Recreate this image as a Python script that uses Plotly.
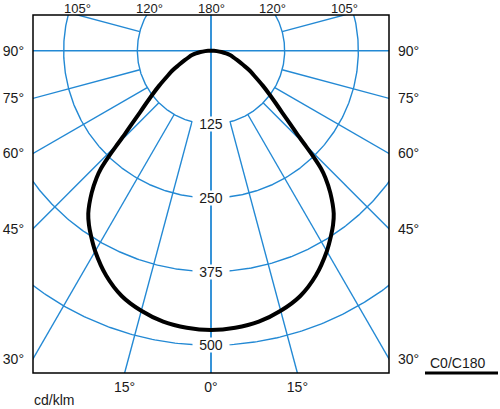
import numpy as np
import plotly.graph_objects as go

gamma_deg = [0, 5, 10, 15, 20, 25, 30, 33, 35, 37, 40, 42, 43, 44, 45, 46, 47, 49, 51,
             53.5, 56, 59.5, 63, 66, 70, 74, 77, 80, 83, 86, 88, 90]
intensity_c0 = [474, 472, 467, 457, 443, 421, 393, 374, 361, 346, 315, 290, 274, 250, 224,
                202, 186, 160, 141, 122, 106, 87, 73, 60, 48, 39, 33, 26, 18, 10, 5, 0]
intensity_c180 = [474, 472, 467, 457, 443, 421, 393, 374, 361, 346, 315, 290, 274, 250, 224,
                  202, 186, 160, 141, 122, 106, 87, 73, 60, 48, 39, 33, 26, 18, 10, 5, 0]

ring_values = [125, 250, 375, 500]
ring_labels = ["125", "250", "375", "500"]
spoke_angles = [0, 15, 30, 45, 60, 75, 90, 105, 120, 135, 150, 165, 180]

side_tick_angles = [90, 75, 60, 45, 30]
side_tick_labels = ["90°", "75°", "60°", "45°", "30°"]
bottom_tick_angles = [-15, 0, 15]
bottom_tick_labels = ["15°", "0°", "15°"]
top_tick_angles = [-105, -120, 180, 120, 105]
top_tick_labels = ["105°", "120°", "180°", "120°", "105°"]

unit_label = "cd/klm"
plane_label = "C0/C180"

# ---- frame (axis ranges in cd/klm) ----
X_HALF = 302.0
Y_TOP = 60.6
Y_BOTTOM = -547.0
BLUE = "#2389d4"
FONT = "Arial, Liberation Sans, Helvetica, sans-serif"
PLOT_W, PLOT_H = 356, 358
MARGIN_T = 15
MARGIN_B = 409 - MARGIN_T - PLOT_H


def polar_xy(gamma, r):
    g = np.radians(gamma)
    return r * np.sin(g), -r * np.cos(g)


fig = go.Figure()

# rings
theta = np.linspace(0, 360, 721)
rx, ry = [], []
for rv in ring_values:
    x, y = polar_xy(theta, rv)
    rx += list(x) + [None]
    ry += list(y) + [None]
fig.add_trace(go.Scatter(x=rx, y=ry, mode="lines", line=dict(color=BLUE, width=1.4),
                         hoverinfo="skip", showlegend=False))

# spokes
sx, sy = [], []
R_FAR = 3000.0
for a in spoke_angles:
    for side in (-1, 1):
        r0 = 0.0 if a in (0, 90, 180) else ring_values[0]
        x0, y0 = polar_xy(side * a, r0)
        x1, y1 = polar_xy(side * a, R_FAR)
        sx += [x0, x1, None]
        sy += [y0, y1, None]
fig.add_trace(go.Scatter(x=sx, y=sy, mode="lines", line=dict(color=BLUE, width=1.4),
                         hoverinfo="skip", showlegend=False))

# intensity curve (C180 on left, C0 on right)
g_left = [-g for g in gamma_deg[::-1]]
i_left = intensity_c180[::-1]
cx_l, cy_l = polar_xy(np.array(g_left), np.array(i_left))
cx_r, cy_r = polar_xy(np.array(gamma_deg), np.array(intensity_c0))
cx = list(cx_l) + list(cx_r[1:])
cy = list(cy_l) + list(cy_r[1:])
fig.add_trace(go.Scatter(x=cx, y=cy, mode="lines",
                         line=dict(color="black", width=4, shape="spline", smoothing=0.8),
                         name=plane_label, hoverinfo="skip", showlegend=False))

# dummy trace to activate the right-hand axis
fig.add_trace(go.Scatter(x=[None], y=[None], xaxis="x", yaxis="y2", showlegend=False, hoverinfo="skip"))

# tick positions: where the spokes meet the frame
side_tickvals = [-X_HALF * np.cos(np.radians(a)) / np.sin(np.radians(a)) for a in side_tick_angles]
bottom_tickvals = [-Y_BOTTOM * np.tan(np.radians(a)) for a in bottom_tick_angles]
top_tickvals = [Y_TOP * np.sin(np.radians(a)) / -np.cos(np.radians(a)) for a in top_tick_angles]

tickfont = dict(family=FONT, size=14, color="#1a1a1a")
common = dict(showgrid=False, zeroline=False, ticks="", fixedrange=True, tickfont=tickfont,
              tickmode="array", showline=False, automargin=False)

fig.update_layout(
    width=500, height=409,
    margin=dict(l=33, r=500 - 33 - PLOT_W, t=MARGIN_T, b=MARGIN_B, autoexpand=False),
    paper_bgcolor="white", plot_bgcolor="white",
    xaxis=dict(range=[-X_HALF, X_HALF], tickvals=bottom_tickvals, ticktext=bottom_tick_labels,
               ticklabelstandoff=4, **common),
    yaxis=dict(range=[Y_BOTTOM, Y_TOP], tickvals=side_tickvals, ticktext=side_tick_labels,
               ticklabelstandoff=8, **common),
    yaxis2=dict(range=[Y_BOTTOM, Y_TOP], tickvals=side_tickvals, ticktext=side_tick_labels,
                overlaying="y", side="right", anchor="x", ticklabelstandoff=8, **common),
    shapes=[
        dict(type="rect", xref="paper", yref="paper", x0=0, x1=1, y0=0, y1=1,
             line=dict(color="black", width=1.5), layer="above"),
        dict(type="line", xref="paper", yref="paper", x0=392 / PLOT_W, x1=465 / PLOT_W,
             y0=0, y1=0, line=dict(color="black", width=3)),
    ],
)

annotations = []
# top angle labels (where the upper spokes leave the frame)
for xv, lab in zip(top_tickvals, top_tick_labels):
    annotations.append(dict(x=xv, y=1 + MARGIN_T / PLOT_H, xref="x", yref="paper", text=lab,
                            showarrow=False, yanchor="top", xanchor="center", borderpad=0,
                            font=dict(family=FONT, size=13, color="#1a1a1a")))
for rv, lab in zip(ring_values, ring_labels):
    annotations.append(dict(x=0, y=-rv, xref="x", yref="y", text=lab, showarrow=False,
                            font=dict(family=FONT, size=14, color="#1a1a1a"),
                            bgcolor="white", width=36, height=14, borderpad=0))
annotations.append(dict(x=0, y=-MARGIN_B / PLOT_H, xref="paper", yref="paper", text=unit_label,
                        showarrow=False, xanchor="left", yanchor="bottom", borderpad=0,
                        font=dict(family=FONT, size=14, color="#1a1a1a")))
annotations.append(dict(x=395 / PLOT_W, y=10 / PLOT_H, xref="paper", yref="paper", text=plane_label,
                        showarrow=False, xanchor="left", yanchor="middle",
                        font=dict(family=FONT, size=14, color="#1a1a1a")))
fig.update_layout(annotations=annotations)

fig.write_html("out.html", config={"displayModeBar": False},
               post_script="document.body.style.margin='0';document.body.style.overflow='hidden';")
